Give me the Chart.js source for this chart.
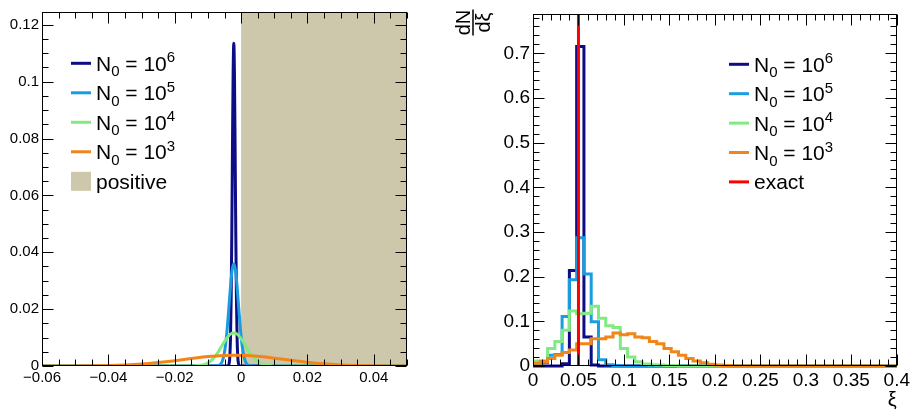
<!DOCTYPE html>
<html>
<head>
<meta charset="utf-8">
<script src="https://cdn.jsdelivr.net/npm/chart.js@4.4.0/dist/chart.umd.min.js"></script>
<style>
  body { margin: 0; background: #fff; }
  #wrap { position: relative; width: 913px; height: 414px; background: #fff; }
  canvas { position: absolute; top: 0; }
  #left { left: 0; }
  #right { left: 440px; }
</style>
</head>
<body>
<div id="wrap">
  <canvas id="left" width="440" height="414"></canvas>
  <canvas id="right" width="473" height="414"></canvas>
</div>
<script>
const FONT = "'Liberation Sans', Arial, Helvetica, sans-serif";

// colours per N0 (10^6, 10^5, 10^4, 10^3)
const exps = ["6", "5", "4", "3"];
const colors = ["#0d0d86", "#1a9de0", "#82ea82", "#f0861a"];
const positiveColor = "#cdc7ab";
const exactColor = "#ff0000";

// ---- left panel: smooth distributions ----
const leftXRange = [-0.06, 0.05];
const leftYMax = 0.1245;
const leftXTicks = [-0.06, -0.04, -0.02, 0, 0.02, 0.04];
const leftXLabels = ["\u22120.06", "\u22120.04", "\u22120.02", "0", "0.02", "0.04"];
const leftYTicks = [0, 0.02, 0.04, 0.06, 0.08, 0.1, 0.12];
const leftYLabels = ["0", "0.02", "0.04", "0.06", "0.08", "0.1", "0.12"];
const positiveFrom = 0;

const n6x = [-0.06, -0.0042, -0.0039, -0.0036, -0.0034, -0.0032, -0.003, -0.0028, -0.0026, -0.0024, -0.0022, -0.002, -0.0018, -0.0016, -0.0014, -0.0012, -0.001, -0.0008, -0.0005, -0.0002, 0.05];
const n6y = [0, 0, 0.0001, 0.0009, 0.0032, 0.0096, 0.0234, 0.0467, 0.0765, 0.1028, 0.1135, 0.1028, 0.0765, 0.0467, 0.0234, 0.0096, 0.0032, 0.0009, 0.0001, 0, 0];

const n5x = [-0.06, -0.0082, -0.0072, -0.0062, -0.0057, -0.0052, -0.0047, -0.0042, -0.0037, -0.0032, -0.0027, -0.0022, -0.0017, -0.0012, -0.0007, -0.0002, 0.0003, 0.0008, 0.0013, 0.0018, 0.0028, 0.0038, 0.05];
const n5y = [0, 0, 0.00006, 0.0006, 0.0016, 0.0036, 0.0073, 0.013, 0.0203, 0.0279, 0.0338, 0.036, 0.0338, 0.0279, 0.0203, 0.013, 0.0073, 0.0036, 0.0016, 0.0006, 0.00006, 0, 0];

const n4x = [-0.06, -0.0172, -0.0142, -0.0122, -0.0112, -0.0102, -0.0092, -0.0082, -0.0072, -0.0062, -0.0052, -0.0042, -0.0032, -0.0022, -0.0012, -0.0002, 0.0008, 0.0018, 0.0028, 0.0038, 0.0048, 0.0058, 0.0068, 0.0078, 0.0098, 0.0128, 0.05];
const n4y = [0, 0, 0.00004, 0.00024, 0.0005, 0.00098, 0.00175, 0.0029, 0.0044, 0.0063, 0.0082, 0.0099, 0.0112, 0.0116, 0.0112, 0.0099, 0.0082, 0.0063, 0.0044, 0.0029, 0.00175, 0.00098, 0.0005, 0.00024, 0.00004, 0, 0];

const n3x = [-0.06, -0.05, -0.045, -0.04, -0.035, -0.03, -0.025, -0.02, -0.015, -0.01, -0.005, -0.002, 0.002, 0.006, 0.01, 0.015, 0.02, 0.025, 0.03, 0.035, 0.04, 0.045, 0.05];
const n3y = [0, 0.00002, 0.00006, 0.00015, 0.00034, 0.00067, 0.0012, 0.00185, 0.0026, 0.0033, 0.00372, 0.0038, 0.00367, 0.0033, 0.00276, 0.002, 0.0013, 0.00075, 0.00039, 0.00018, 0.000075, 0.00003, 0.00001];

// ---- right panel: histograms of xi ----
const rightXRange = [0, 0.4];
const rightYMax = 0.787;
const rightXTicks = [0, 0.05, 0.1, 0.15, 0.2, 0.25, 0.3, 0.35, 0.4];
const rightXLabels = ["0", "0.05", "0.1", "0.15", "0.2", "0.25", "0.3", "0.35", "0.4"];
const rightYTicks = [0, 0.1, 0.2, 0.3, 0.4, 0.5, 0.6, 0.7];
const rightYLabels = ["0", "0.1", "0.2", "0.3", "0.4", "0.5", "0.6", "0.7"];
const exactXi = 0.05;

const binEdges = [0, 0.008, 0.016, 0.024, 0.032, 0.04, 0.048, 0.056, 0.064, 0.072, 0.08, 0.088, 0.096, 0.104, 0.112, 0.12, 0.128, 0.136, 0.144, 0.152, 0.16, 0.168, 0.176, 0.184, 0.192, 0.2, 0.208, 0.216, 0.224, 0.232, 0.24, 0.248, 0.256, 0.264, 0.272, 0.28, 0.288, 0.296, 0.304, 0.312, 0.32, 0.328, 0.336, 0.344, 0.352, 0.36, 0.368, 0.376, 0.384, 0.392, 0.4];

const h6 = [0, 0, 0, 0, 0.005, 0.214, 0.715, 0.065, 0.002, 0, 0, 0, 0, 0, 0, 0, 0, 0, 0, 0, 0, 0, 0, 0, 0, 0, 0, 0, 0, 0, 0, 0, 0, 0, 0, 0, 0, 0, 0, 0, 0, 0, 0, 0, 0, 0, 0, 0, 0, 0];
const h5 = [0.002, 0.008, 0.024, 0.026, 0.111, 0.193, 0.287, 0.206, 0.099, 0.014, 0.003, 0.001, 0, 0, 0, 0, 0, 0, 0, 0, 0, 0, 0, 0, 0, 0, 0, 0, 0, 0, 0, 0, 0, 0, 0, 0, 0, 0, 0, 0, 0, 0, 0, 0, 0, 0, 0, 0, 0, 0];
const h4 = [0.011, 0.012, 0.039, 0.055, 0.08, 0.123, 0.117, 0.118, 0.134, 0.107, 0.09, 0.086, 0.039, 0.02, 0.0096, 0.0044, 0.003, 0.002, 0.001, 0.001, 0, 0, 0, 0, 0, 0, 0, 0, 0, 0, 0, 0, 0, 0, 0, 0, 0, 0, 0, 0, 0, 0, 0, 0, 0, 0, 0, 0, 0, 0];
const h3 = [0.006, 0.01, 0.017, 0.024, 0.03, 0.036, 0.05, 0.05, 0.061, 0.061, 0.065, 0.074, 0.07, 0.072, 0.065, 0.063, 0.055, 0.05, 0.039, 0.032, 0.024, 0.017, 0.011, 0.007, 0.004, 0.002, 0.001, 0, 0, 0, 0, 0, 0, 0, 0, 0, 0, 0, 0, 0, 0, 0, 0, 0, 0, 0, 0, 0, 0, 0];

function curve(xs, ys, color) {
  return {
    data: xs.map((x, i) => ({ x: x, y: ys[i] })),
    borderColor: color,
    borderWidth: 3,
    pointRadius: 0,
    cubicInterpolationMode: "monotone",
    fill: false,
  };
}

// point k sits on the low edge of bin k; "before" keeps its value up to the next edge
function hist(vals, color) {
  return {
    data: binEdges.map((x, i) => ({ x: x, y: vals[Math.min(i, vals.length - 1)] })),
    borderColor: color,
    borderWidth: 3,
    pointRadius: 0,
    stepped: "before",
    fill: false,
    clip: false,
  };
}

function drawN0(ctx, x, base, exp) {
  ctx.font = "21px " + FONT;
  ctx.fillText("N", x, base);
  x += ctx.measureText("N").width;
  ctx.font = "15px " + FONT;
  ctx.fillText("0", x, base + 5.5);
  x += ctx.measureText("0").width;
  ctx.font = "21px " + FONT;
  ctx.fillText(" = 10", x, base);
  x += ctx.measureText(" = 10").width;
  ctx.font = "15px " + FONT;
  ctx.fillText(exp, x, base - 8.5);
}

function legendPlugin(items, x0, y0, dy) {
  return {
    id: "rootLegend",
    afterDraw(chart) {
      const ctx = chart.ctx;
      ctx.save();
      ctx.textAlign = "left";
      ctx.textBaseline = "alphabetic";
      items.forEach((it, i) => {
        const y = y0 + i * dy;
        if (it.box) {
          ctx.fillStyle = it.color;
          ctx.fillRect(x0, y - 9.5, 20, 19);
        } else {
          ctx.strokeStyle = it.color;
          ctx.lineWidth = 3;
          ctx.beginPath();
          ctx.moveTo(x0, y);
          ctx.lineTo(x0 + 20, y);
          ctx.stroke();
        }
        ctx.fillStyle = "#000";
        if (it.exp) {
          drawN0(ctx, x0 + 25, y + 7.5, it.exp);
        } else {
          ctx.font = "21px " + FONT;
          ctx.fillText(it.text, x0 + 25, y + 7.5);
        }
      });
      ctx.restore();
    },
  };
}

// ROOT style frame: box plus inward ticks on all four sides
function frameTicks(xMinor, xMajor, yMinor, yMajor) {
  return {
    id: "frameTicks",
    afterDatasetsDraw(chart) {
      const { ctx, chartArea: a } = chart;
      const xs = chart.scales.x;
      const ys = chart.scales.y;
      const isMajor = (v, m) => Math.abs(v / m - Math.round(v / m)) < 1e-6;
      const left = Math.round(a.left) + 0.5, right = Math.round(a.right) - 0.5;
      const top = Math.round(a.top) + 0.5, bottom = Math.round(a.bottom) - 0.5;
      ctx.save();
      ctx.strokeStyle = "#000";
      ctx.lineWidth = 1;
      ctx.beginPath();
      const nx = Math.round((xs.max - xs.min) / xMinor);
      for (let i = 0; i <= nx; i++) {
        const v = xs.min + i * xMinor;
        const px = Math.round(xs.getPixelForValue(v)) + 0.5;
        const len = isMajor(v, xMajor) ? 11 : 6;
        ctx.moveTo(px, bottom); ctx.lineTo(px, bottom - len);
        ctx.moveTo(px, top); ctx.lineTo(px, top + len);
      }
      for (let i = 0; ys.min + i * yMinor <= ys.max + 1e-9; i++) {
        const v = ys.min + i * yMinor;
        const py = Math.round(ys.getPixelForValue(v)) + 0.5;
        const len = isMajor(v, yMajor) ? 11 : 6;
        ctx.moveTo(left, py); ctx.lineTo(left + len, py);
        ctx.moveTo(right, py); ctx.lineTo(right - len, py);
      }
      ctx.stroke();
      ctx.strokeRect(left, top, right - left, bottom - top);
      ctx.restore();
    },
  };
}

const positivePlugin = {
  id: "positive",
  beforeDatasetsDraw(chart) {
    const { ctx, chartArea: a } = chart;
    const px = chart.scales.x.getPixelForValue(positiveFrom);
    ctx.save();
    ctx.fillStyle = positiveColor;
    ctx.fillRect(px, a.top, a.right - px, a.bottom - a.top);
    ctx.restore();
  },
};

const yTitlePlugin = {
  id: "yTitle",
  afterDraw(chart) {
    const ctx = chart.ctx;
    ctx.save();
    ctx.translate(33, 22.5);
    ctx.rotate(-Math.PI / 2);
    ctx.fillStyle = "#000";
    ctx.textAlign = "center";
    ctx.font = "20px " + FONT;
    ctx.textBaseline = "alphabetic";
    ctx.fillText("dN", 0, -3);
    ctx.textBaseline = "top";
    ctx.fillText("d\u03be", 0, 1);
    ctx.fillRect(-13, -0.75, 26, 1.5);
    ctx.restore();
  },
};

function axis(range, ticks, labels, size, fit, horizontal, extra) {
  return Object.assign({
    type: "linear",
    min: range[0],
    max: range[1],
    grid: { display: false, drawTicks: false },
    border: { display: false },
    afterBuildTicks: (s) => { s.ticks = ticks.map((v) => ({ value: v })); },
    afterFit: (s) => { if (horizontal) s.height = fit; else s.width = fit; },
    ticks: {
      autoSkip: false,
      maxRotation: 0,
      padding: 3,
      color: "#000",
      font: { family: FONT, size: size },
      callback: (v, i) => labels[i],
    },
  }, extra || {});
}

new Chart(document.getElementById("left"), {
  type: "line",
  data: {
    datasets: [
      curve(n3x, n3y, colors[3]),
      curve(n4x, n4y, colors[2]),
      curve(n5x, n5y, colors[1]),
      curve(n6x, n6y, colors[0]),
    ],
  },
  options: {
    responsive: false,
    animation: false,
    events: [],
    layout: { padding: { top: 9, right: 33, left: 0, bottom: 0 } },
    plugins: { legend: { display: false }, tooltip: { enabled: false } },
    scales: {
      x: axis(leftXRange, leftXTicks, leftXLabels, 15, 48, true),
      y: axis([0, leftYMax], leftYTicks, leftYLabels, 15, 42, false),
    },
  },
  plugins: [
    positivePlugin,
    frameTicks(0.005, 0.02, 0.005, 0.02),
    legendPlugin([
      { color: colors[0], exp: exps[0] },
      { color: colors[1], exp: exps[1] },
      { color: colors[2], exp: exps[2] },
      { color: colors[3], exp: exps[3] },
      { color: positiveColor, box: true, text: "positive" },
    ], 71, 63.3, 29.5),
  ],
});

new Chart(document.getElementById("right"), {
  type: "line",
  data: {
    datasets: [
      {
        data: [{ x: exactXi, y: 0 }, { x: exactXi, y: rightYMax }],
        borderColor: exactColor,
        borderWidth: 3,
        pointRadius: 0,
        fill: false,
      },
      hist(h3, colors[3]),
      hist(h4, colors[2]),
      hist(h5, colors[1]),
      hist(h6, colors[0]),
    ],
  },
  options: {
    responsive: false,
    animation: false,
    events: [],
    layout: { padding: { top: 10, right: 14, left: 0, bottom: 0 } },
    plugins: { legend: { display: false }, tooltip: { enabled: false } },
    scales: {
      x: axis(rightXRange, rightXTicks, rightXLabels, 19, 48, true, {
        title: { display: true, text: "\u03be", align: "end", color: "#000", font: { family: FONT, size: 20 }, padding: { top: 0, bottom: 2 } },
      }),
      y: axis([0, rightYMax], rightYTicks, rightYLabels, 19, 93, false),
    },
  },
  plugins: [
    frameTicks(0.01, 0.05, 0.02, 0.1),
    yTitlePlugin,
    legendPlugin([
      { color: colors[0], exp: exps[0] },
      { color: colors[1], exp: exps[1] },
      { color: colors[2], exp: exps[2] },
      { color: colors[3], exp: exps[3] },
      { color: exactColor, text: "exact" },
    ], 289, 64.3, 29.4),
  ],
});
</script>
</body>
</html>
